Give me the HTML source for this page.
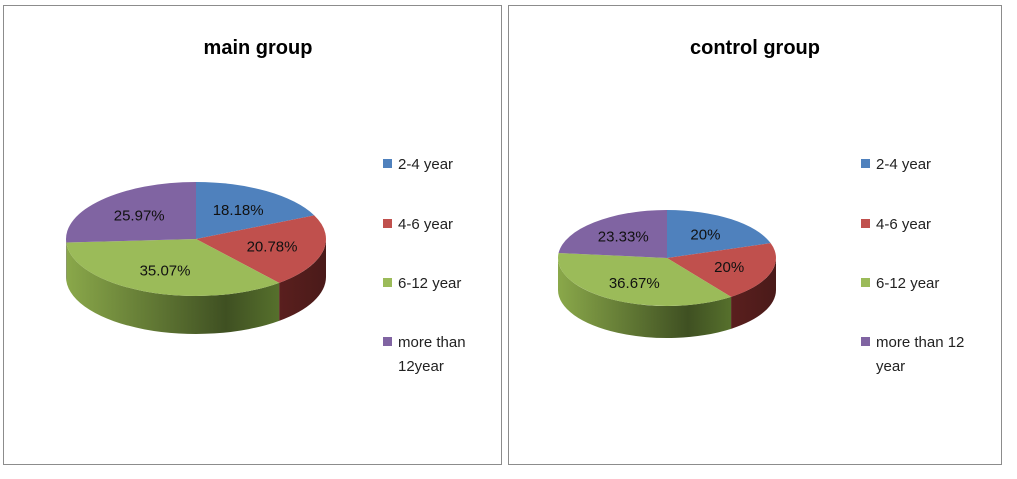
<!DOCTYPE html>
<html><head><meta charset="utf-8"><style>
body{margin:0;background:#fff;width:1017px;height:474px;overflow:hidden;font-family:"Liberation Sans",sans-serif}
</style></head><body>
<svg width="1017" height="474" xmlns="http://www.w3.org/2000/svg">
<defs>
<linearGradient id="gG" x1="0" x2="1" y1="0" y2="0"><stop offset="0" stop-color="#8aa84a"/><stop offset="0.75" stop-color="#3f5022"/><stop offset="1" stop-color="#56702c"/></linearGradient>
<linearGradient id="gR" x1="0" x2="1"><stop offset="0" stop-color="#5a1f1e"/><stop offset="1" stop-color="#4a1a19"/></linearGradient>
<linearGradient id="gB" x1="0" x2="1"><stop offset="0" stop-color="#2f4f7a"/><stop offset="1" stop-color="#24406a"/></linearGradient>
<linearGradient id="gP" x1="0" x2="1"><stop offset="0" stop-color="#6d5788"/><stop offset="1" stop-color="#4e3c66"/></linearGradient>
</defs>
<rect x="3.5" y="5.5" width="498" height="459" fill="#fff" stroke="#8c8c8c"/>
<rect x="508.5" y="5.5" width="493" height="459" fill="#fff" stroke="#8c8c8c"/>
<text x="258" y="54" text-anchor="middle" font-size="20" font-weight="bold">main group</text>
<text x="755" y="54" text-anchor="middle" font-size="20" font-weight="bold">control group</text>
<g id="g1"></g><g id="g2"></g>
</svg>
<script>
const categories=["2-4 year","4-6 year","6-12 year","more than 12 year"];
const mainValues=[18.18,20.78,35.07,25.97];
const mainLabels=["18.18%","20.78%","35.07%","25.97%"];
const controlValues=[20,20,36.67,23.33];
const controlLabels=["20%","20%","36.67%","23.33%"];
const colors=["#4f81bd","#c0504d","#9bbb59","#8064a2"];
const sides=["url(#gB)","url(#gR)","url(#gG)","url(#gP)"];
const NS="http://www.w3.org/2000/svg";
function mk(t,a,p){const e=document.createElementNS(NS,t);for(const k in a)e.setAttribute(k,a[k]);p.appendChild(e);return e;}
function pie(g,vals,labs,cx,cy,rx,ry,d,legX,legYs,legTexts,name){
  const tot=vals.reduce((a,b)=>a+b,0);
  const P=t=>[cx+rx*Math.cos(t),cy+ry*Math.sin(t)];
  let a=-Math.PI/2;const angs=[];
  vals.forEach(v=>{const b=a+v/tot*2*Math.PI;angs.push([a,b]);a=b;});
  // sides
  angs.forEach(([s,e],i)=>{
    for(let k=0;k<2;k++){
      const lo=Math.max(s,k*2*Math.PI),hi=Math.min(e,Math.PI+k*2*Math.PI);
      if(hi<=lo)continue;
      const p1=P(lo),p2=P(hi);
      const el=mk('path',{d:`M${p1[0]},${p1[1]} A${rx},${ry} 0 0 1 ${p2[0]},${p2[1]} L${p2[0]},${p2[1]+d} A${rx},${ry} 0 0 0 ${p1[0]},${p1[1]+d} Z`,fill:sides[i]},g);
      
      
    }
  });
  angs.forEach(([s,e],i)=>{
    const p1=P(s),p2=P(e);const large=(e-s)>Math.PI?1:0;
    const el=mk('path',{d:`M${cx},${cy} L${p1[0]},${p1[1]} A${rx},${ry} 0 ${large} 1 ${p2[0]},${p2[1]} Z`,fill:colors[i]},g);
    
    
  });
  angs.forEach(([s,e],i)=>{
    const m=(s+e)/2;
    const t=mk('text',{x:cx+0.6*rx*Math.cos(m),y:cy+0.6*ry*Math.sin(m)+5,'text-anchor':'middle','font-size':15,fill:'#111'},g);
    t.textContent=labs[i];
    
    
  });
  legTexts.forEach((lines,i)=>{
    const r=mk('rect',{x:legX,y:legYs[i]-5,width:9,height:9,fill:colors[i]},g);
    
    
    lines.forEach((ln,j)=>{
      const t=mk('text',{x:legX+15,y:legYs[i]+5+j*24,'font-size':15,fill:'#222'},g);
      t.textContent=ln;
      
      
    });
  });
}
pie(document.getElementById('g1'),mainValues,mainLabels,196,239,130,57,38,383,[164,224,283,342],[["2-4 year"],["4-6 year"],["6-12 year"],["more than","12year"]],'main');
pie(document.getElementById('g2'),controlValues,controlLabels,667,258,109,48,32,861,[164,224,283,342],[["2-4 year"],["4-6 year"],["6-12 year"],["more than 12","year"]],'control');
</script>
</body></html>
